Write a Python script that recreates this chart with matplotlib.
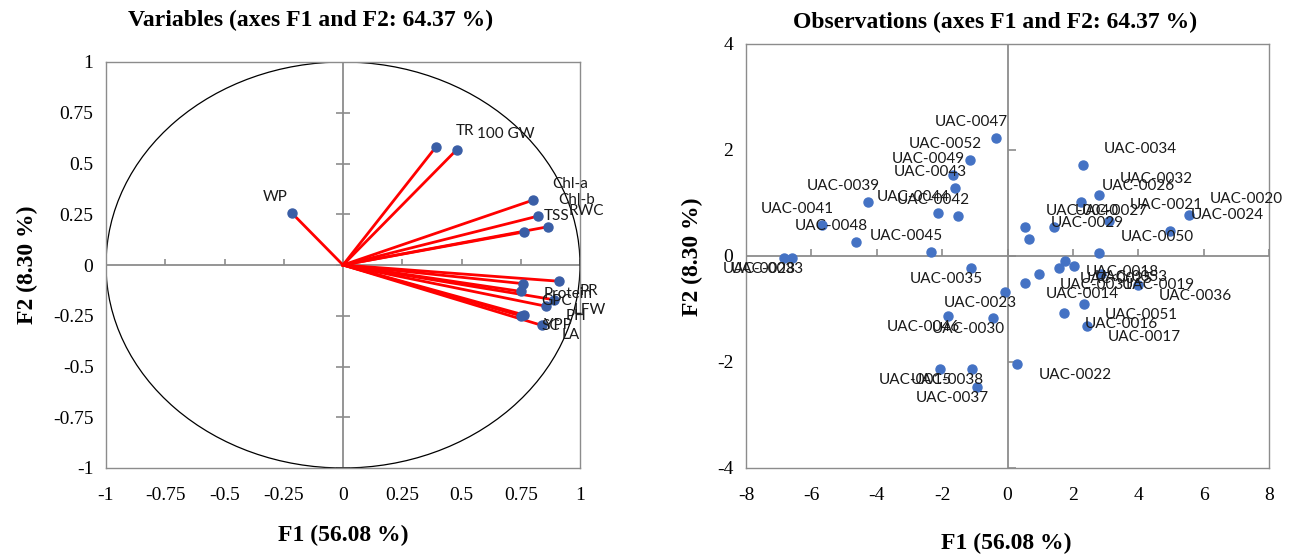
import matplotlib

matplotlib.use("Agg")
import matplotlib.pyplot as plt
from matplotlib.patches import Circle

# correlation circle (variables)
var_names = ["TR", "100 GW", "WP", "Chl-a", "Chl-b", "RWC", "TSS",
             "PR", "Protein", "GPC", "LFW", "PH", "YPP", "SC", "LA"]
var_f1 = [0.393, 0.479, -0.215, 0.800, 0.823, 0.867, 0.764,
          0.912, 0.761, 0.750, 0.889, 0.856, 0.763, 0.752, 0.838]
var_f2 = [0.583, 0.567, 0.255, 0.319, 0.241, 0.189, 0.163,
          -0.080, -0.092, -0.130, -0.171, -0.203, -0.246, -0.251, -0.297]

# observations
obs_names = ["UAC-0047", "UAC-0052", "UAC-0049", "UAC-0043", "UAC-0039",
             "UAC-0044", "UAC-0042", "UAC-0041", "UAC-0048", "UAC-0045",
             "UAC-0028", "UAC-0033", "UAC-0035", "UAC-0023", "UAC-0046",
             "UAC-0030", "UAC-0015", "UAC-0038", "UAC-0037", "UAC-0022",
             "UAC-0034", "UAC-0032", "UAC-0026", "UAC-0021", "UAC-0020",
             "UAC-0027", "UAC-0040", "UAC-0029", "UAC-0024", "UAC-0050",
             "UAC-0018", "UAC-0025", "UAC-0053", "UAC-0031", "UAC-0014",
             "UAC-0019", "UAC-0036", "UAC-0051", "UAC-0016", "UAC-0017"]
obs_f1 = [-0.35, -1.15, -1.66, -1.60, -4.27, -2.13, -1.52, -5.68, -4.65, -2.35,
          -6.84, -6.59, -1.12, -0.07, -1.83, -0.44, -2.06, -1.09, -0.94, 0.30,
          2.30, 2.79, 2.25, 3.11, 5.54, 1.43, 0.54, 0.67, 4.97, 2.81,
          1.75, 1.58, 2.02, 0.97, 0.54, 2.86, 3.98, 2.33, 1.72, 2.43]
obs_f2 = [2.22, 1.82, 1.53, 1.29, 1.02, 0.81, 0.76, 0.58, 0.27, 0.07,
          -0.03, -0.04, -0.23, -0.68, -1.13, -1.17, -2.14, -2.14, -2.48, -2.03,
          1.71, 1.15, 1.02, 0.66, 0.78, 0.54, 0.54, 0.33, 0.47, 0.06,
          -0.09, -0.23, -0.18, -0.34, -0.51, -0.34, -0.55, -0.90, -1.07, -1.32]

var_ticks = [-1, -0.75, -0.5, -0.25, 0, 0.25, 0.5, 0.75, 1]
var_tick_labels = ["-1", "-0.75", "-0.5", "-0.25", "0", "0.25", "0.5", "0.75", "1"]
obs_xticks = [-8, -6, -4, -2, 0, 2, 4, 6, 8]
obs_yticks = [-4, -2, 0, 2, 4]

title_var = "Variables (axes F1 and F2: 64.37 %)"
title_obs = "Observations (axes F1 and F2: 64.37 %)"
xlab = "F1 (56.08 %)"
ylab = "F2 (8.30 %)"

SERIF = "Liberation Serif"
SANS = "Lato"
GRAY = "#8c8c8c"
W, H = 1296, 554

plt.rcParams["axes.unicode_minus"] = False

fig = plt.figure(figsize=(W / 100, H / 100), dpi=100)


def px_box(left, top, right, bottom):
    return [left / W, 1 - bottom / H, (right - left) / W, (bottom - top) / H]


def style_axes(ax, xt, xl, yt, yl):
    ax.set_xticks(xt, labels=xl)
    ax.set_yticks(yt, labels=yl)
    ax.tick_params(axis="both", length=0, labelsize=14)
    ax.tick_params(axis="x", pad=14)
    ax.tick_params(axis="y", pad=9)
    for lab in ax.get_xticklabels() + ax.get_yticklabels():
        lab.set_fontfamily(SERIF)
    for sp in ax.spines.values():
        sp.set_color(GRAY)
        sp.set_linewidth(1.0)
    ax.axhline(0, color=GRAY, lw=1.3, zorder=1)
    ax.axvline(0, color=GRAY, lw=1.3, zorder=1)


# ---- left: variables ----
ax1 = fig.add_axes(px_box(106, 62, 580, 468))
ax1.set_xlim(-1, 1)
ax1.set_ylim(-1, 1)
style_axes(ax1, var_ticks, var_tick_labels, var_ticks, var_tick_labels)
ax1.plot(var_ticks, [0] * len(var_ticks), ls="none", marker=2, ms=4.5,
         mew=1.2, color=GRAY, zorder=1)
ax1.plot([0] * len(var_ticks), var_ticks, ls="none", marker="_", ms=10,
         mew=1.2, color=GRAY, zorder=1)
ax1.add_patch(Circle((0, 0), 1, fill=False, ec="black", lw=0.9, zorder=2))
for x, y in zip(var_f1, var_f2):
    ax1.plot([0, x], [0, y], color="red", lw=2.0, zorder=3)
ax1.plot(var_f1, var_f2, ls="none", marker="o", ms=6.5, color="#3a5ea6", zorder=4)
for name, x, y in zip(var_names, var_f1, var_f2):
    dx, ha = (20, "left") if x > 0 else (-4, "right")
    dy = 16 if y > 0 else -10
    ax1.annotate(name, (x, y), xytext=(dx, dy), textcoords="offset pixels",
                 ha=ha, va="center", fontsize=11, family=SANS, color="#1a1a1a",
                 zorder=5)

# ---- right: observations ----
ax2 = fig.add_axes(px_box(746, 44, 1269, 468))
ax2.set_xlim(-8, 8)
ax2.set_ylim(-4, 4)
style_axes(ax2, obs_xticks, [str(v) for v in obs_xticks],
           obs_yticks, [str(v) for v in obs_yticks])
ax2.plot(obs_xticks, [0] * len(obs_xticks), ls="none", marker=2, ms=5,
         mew=1.2, color=GRAY, zorder=1)
ax2.plot([0] * len(obs_yticks), obs_yticks, ls="none", marker=1, ms=6,
         mew=1.2, color=GRAY, zorder=1)
ax2.plot(obs_f1, obs_f2, ls="none", marker="o", ms=6.5, color="#4472c4", zorder=4)
for name, x, y in zip(obs_names, obs_f1, obs_f2):
    dx, ha = (21, "left") if x > 0 else (12, "right")
    dy = 16 if y > 0 else -11
    ax2.annotate(name, (x, y), xytext=(dx, dy), textcoords="offset pixels",
                 ha=ha, va="center", fontsize=11, family=SANS, color="#1a1a1a",
                 zorder=5)

# ---- titles and axis names ----
bold = dict(family=SERIF, fontsize=17, fontweight="bold", ha="center", va="center")
fig.text(311 / W, 1 - 20 / H, title_var, **bold)
fig.text(995 / W, 1 - 22 / H, title_obs, **bold)
fig.text(343 / W, 1 - 535 / H, xlab, **bold)
fig.text(1006 / W, 1 - 543 / H, xlab, **bold)
fig.text(27 / W, 1 - 265 / H, ylab, rotation=90, **bold)
fig.text(692 / W, 1 - 257 / H, ylab, rotation=90, **bold)

fig.savefig("out.png", dpi=100)
